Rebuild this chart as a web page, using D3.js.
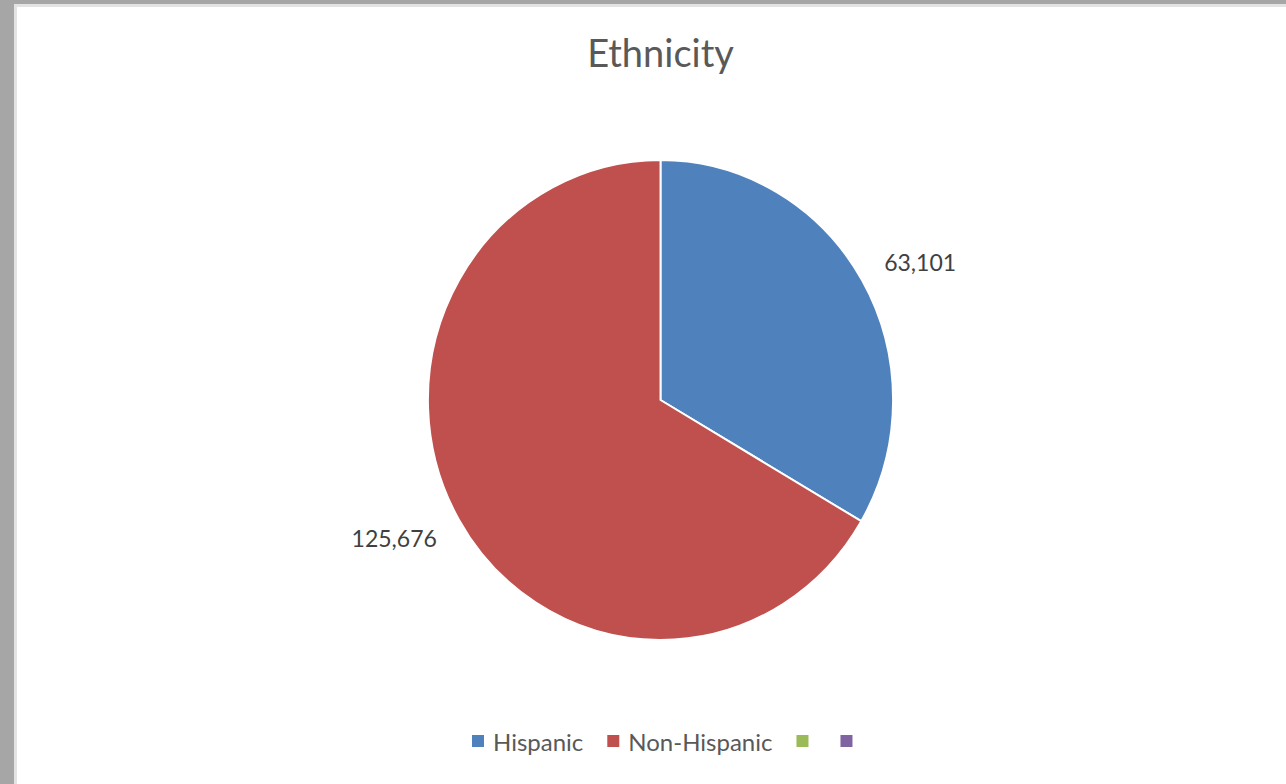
<!DOCTYPE html>
<html>
<head>
<meta charset="utf-8">
<script src="https://cdn.jsdelivr.net/npm/d3@7"></script>
<style>
  html, body { margin: 0; padding: 0; background: #a6a6a6; }
  svg { display: block; }
</style>
</head>
<body>
<div id="chart"></div>
<script>
// Chart data
const title = "Ethnicity";
const categories = ["Hispanic", "Non-Hispanic", "", ""];
const values = [63101, 125676, 0, 0];
const colors = ["#4f81bd", "#c0504d", "#9bbb59", "#8064a2"];

const W = 1286, H = 784;
const cx = 660.5, cy = 400, radius = 240;

const svg = d3.select("#chart").append("svg")
    .attr("width", W)
    .attr("height", H);

// Frame: grey window edge, thin light line, then white chart area
svg.append("rect").attr("x", 0).attr("y", 0).attr("width", W).attr("height", H).attr("fill", "#a6a6a6");
svg.append("rect").attr("x", 14).attr("y", 4).attr("width", W - 14).attr("height", H - 4).attr("fill", "#e3e3e3");
svg.append("rect").attr("x", 17).attr("y", 7).attr("width", W - 17).attr("height", H - 7).attr("fill", "#ffffff");

// Title
svg.append("text")
    .attr("x", cx)
    .attr("y", 67)
    .attr("text-anchor", "middle")
    .style("font-family", "Lato, 'Open Sans', sans-serif")
    .style("font-size", "38px")
    .style("fill", "#595959")
    .text(title);

const data = categories.map((c, i) => ({ name: c, value: values[i], color: colors[i] }));

const pie = d3.pie().sort(null).value(d => d.value);
const arcs = pie(data).filter(d => d.data.value > 0);
const arc = d3.arc().innerRadius(0).outerRadius(radius);

// The picture is slightly squashed horizontally
const sx = 0.969;
const g = svg.append("g").attr("transform", `translate(${cx},${cy}) scale(${sx},1)`);

g.selectAll("path")
    .data(arcs)
    .enter()
    .append("path")
    .attr("d", arc)
    .attr("fill", d => d.data.color)
    .attr("stroke", "#ffffff")
    .attr("stroke-width", 2)
    .attr("stroke-linejoin", "round");

// Data labels outside the pie
const labelArc = d3.arc().innerRadius(278).outerRadius(278);
svg.append("g").selectAll("text")
    .data(arcs)
    .enter()
    .append("text")
    .style("font-family", "Lato, 'Open Sans', sans-serif")
    .style("font-size", "23px")
    .style("fill", "#404040")
    .attr("text-anchor", "middle")
    .attr("dominant-baseline", "central")
    .text(d => d3.format(",")(d.data.value))
    .each(function(d) {
        const p = labelArc.centroid(d);
        const w = this.getComputedTextLength();
        const side = p[0] >= 0 ? 1 : -1;
        d3.select(this)
            .attr("x", cx + p[0] * sx + side * (w / 2 - 10))
            .attr("y", cy + p[1]);
    });

// Legend
const legend = svg.append("g").attr("transform", "translate(0,741)");
const legendFont = "Lato, 'Open Sans', sans-serif";
let lx = 472;
data.forEach(d => {
    legend.append("rect")
        .attr("x", lx)
        .attr("y", -6)
        .attr("width", 12)
        .attr("height", 12)
        .attr("fill", d.color);
    const t = legend.append("text")
        .attr("x", lx + 21)
        .attr("y", 0)
        .attr("dominant-baseline", "central")
        .style("font-family", legendFont)
        .style("font-size", "24px")
        .style("fill", "#595959")
        .text(d.name);
    const tw = d.name ? t.node().getComputedTextLength() : 0;
    lx += d.name ? 21 + tw + 24 : 44;
});
</script>
</body>
</html>
